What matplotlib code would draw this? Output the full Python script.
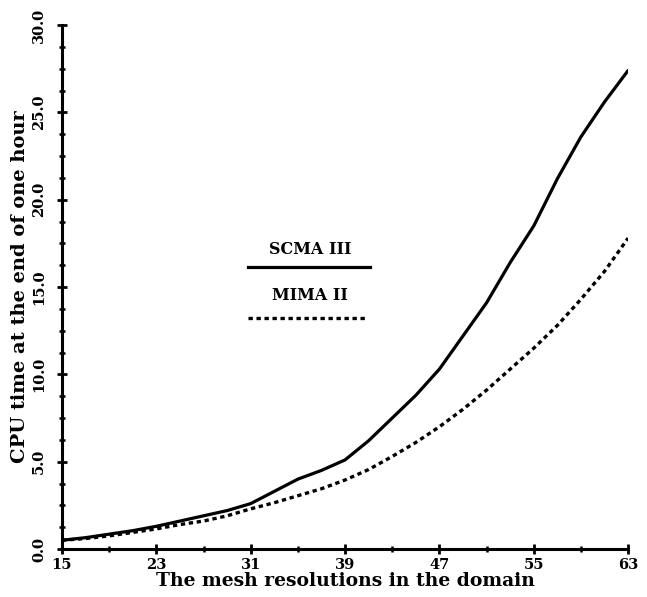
import matplotlib
matplotlib.use("Agg")
import matplotlib.pyplot as plt
from matplotlib.lines import Line2D
from matplotlib.ticker import FixedLocator, MultipleLocator

# Data
mesh = [15, 17, 19, 21, 23, 25, 27, 29, 31, 33, 35, 37, 39, 41, 43, 45, 47, 49, 51, 53, 55, 57, 59, 61, 63]
scma3 = [0.5, 0.65, 0.85, 1.05, 1.3, 1.6, 1.9, 2.2, 2.6, 3.3, 4.0, 4.5, 5.1, 6.2, 7.5, 8.8, 10.3,
         12.2, 14.1, 16.4, 18.5, 21.2, 23.6, 25.6, 27.4]
mima2 = [0.5, 0.6, 0.75, 0.95, 1.15, 1.4, 1.6, 1.9, 2.3, 2.65, 3.05, 3.45, 3.95, 4.55, 5.3, 6.1, 7.0,
         8.0, 9.1, 10.3, 11.5, 12.8, 14.3, 15.9, 17.8]
x_ticks = [15, 23, 31, 39, 47, 55, 63]
x_minor = [19, 27, 35, 43, 51, 59]
y_ticks = [0, 5, 10, 15, 20, 25, 30]
y_tick_labels = ["0.0", "5.0", "10.0", "15.0", "20.0", "25.0", "30.0"]
series_names = ["SCMA III", "MIMA II"]

plt.rcParams['font.family'] = ['DejaVu Serif']
plt.rcParams['font.weight'] = 'bold'

fig = plt.figure(figsize=(6.47, 5.97), dpi=100)
ax = fig.add_axes([0.0958, 0.0804, 0.875, 0.8776])

ax.plot(mesh, scma3, color='black', lw=2.3, solid_capstyle='round', solid_joinstyle='round')
ax.plot(mesh, mima2, color='black', lw=2.4, linestyle=(0, (1.3, 1.1)))

ax.set_xlim(15, 63)
ax.set_ylim(0, 30)
ax.set_xticks(x_ticks)
ax.set_xticklabels([str(v) for v in x_ticks], fontsize=10.5, fontweight='bold')
ax.xaxis.set_minor_locator(FixedLocator(x_minor))
ax.set_yticks(y_ticks)
ax.set_yticklabels(y_tick_labels, fontsize=10.5, fontweight='bold', rotation=90, va='center')
ax.yaxis.set_minor_locator(MultipleLocator(1.25))

for s in ['top', 'right']:
    ax.spines[s].set_visible(False)
for s in ['left', 'bottom']:
    ax.spines[s].set_linewidth(2.2)

ax.tick_params(axis='both', which='major', direction='inout', length=7, width=2, pad=3)
ax.tick_params(axis='y', which='major', pad=8)
ax.tick_params(axis='both', which='minor', direction='inout', length=5, width=1.8)

ax.set_xlabel("The mesh resolutions in the domain", fontsize=13.5, fontweight='bold', labelpad=0)
ax.set_ylabel("CPU time at the end of one hour", fontsize=14, fontweight='bold', labelpad=2)

# Legend drawn as in the reference: labels above line samples
ax.text(0.438, 0.571, series_names[0], transform=ax.transAxes, ha='center', va='center',
        fontsize=11.5, fontweight='bold')
ax.add_line(Line2D([0.329, 0.544], [0.538, 0.538], transform=ax.transAxes, color='black', lw=2.3))
ax.text(0.438, 0.483, series_names[1], transform=ax.transAxes, ha='center', va='center',
        fontsize=11.5, fontweight='bold')
ax.add_line(Line2D([0.329, 0.540], [0.441, 0.441], transform=ax.transAxes, color='black', lw=2.4,
                   linestyle=(0, (1.3, 1.1))))

fig.savefig("out.png", dpi=100)
